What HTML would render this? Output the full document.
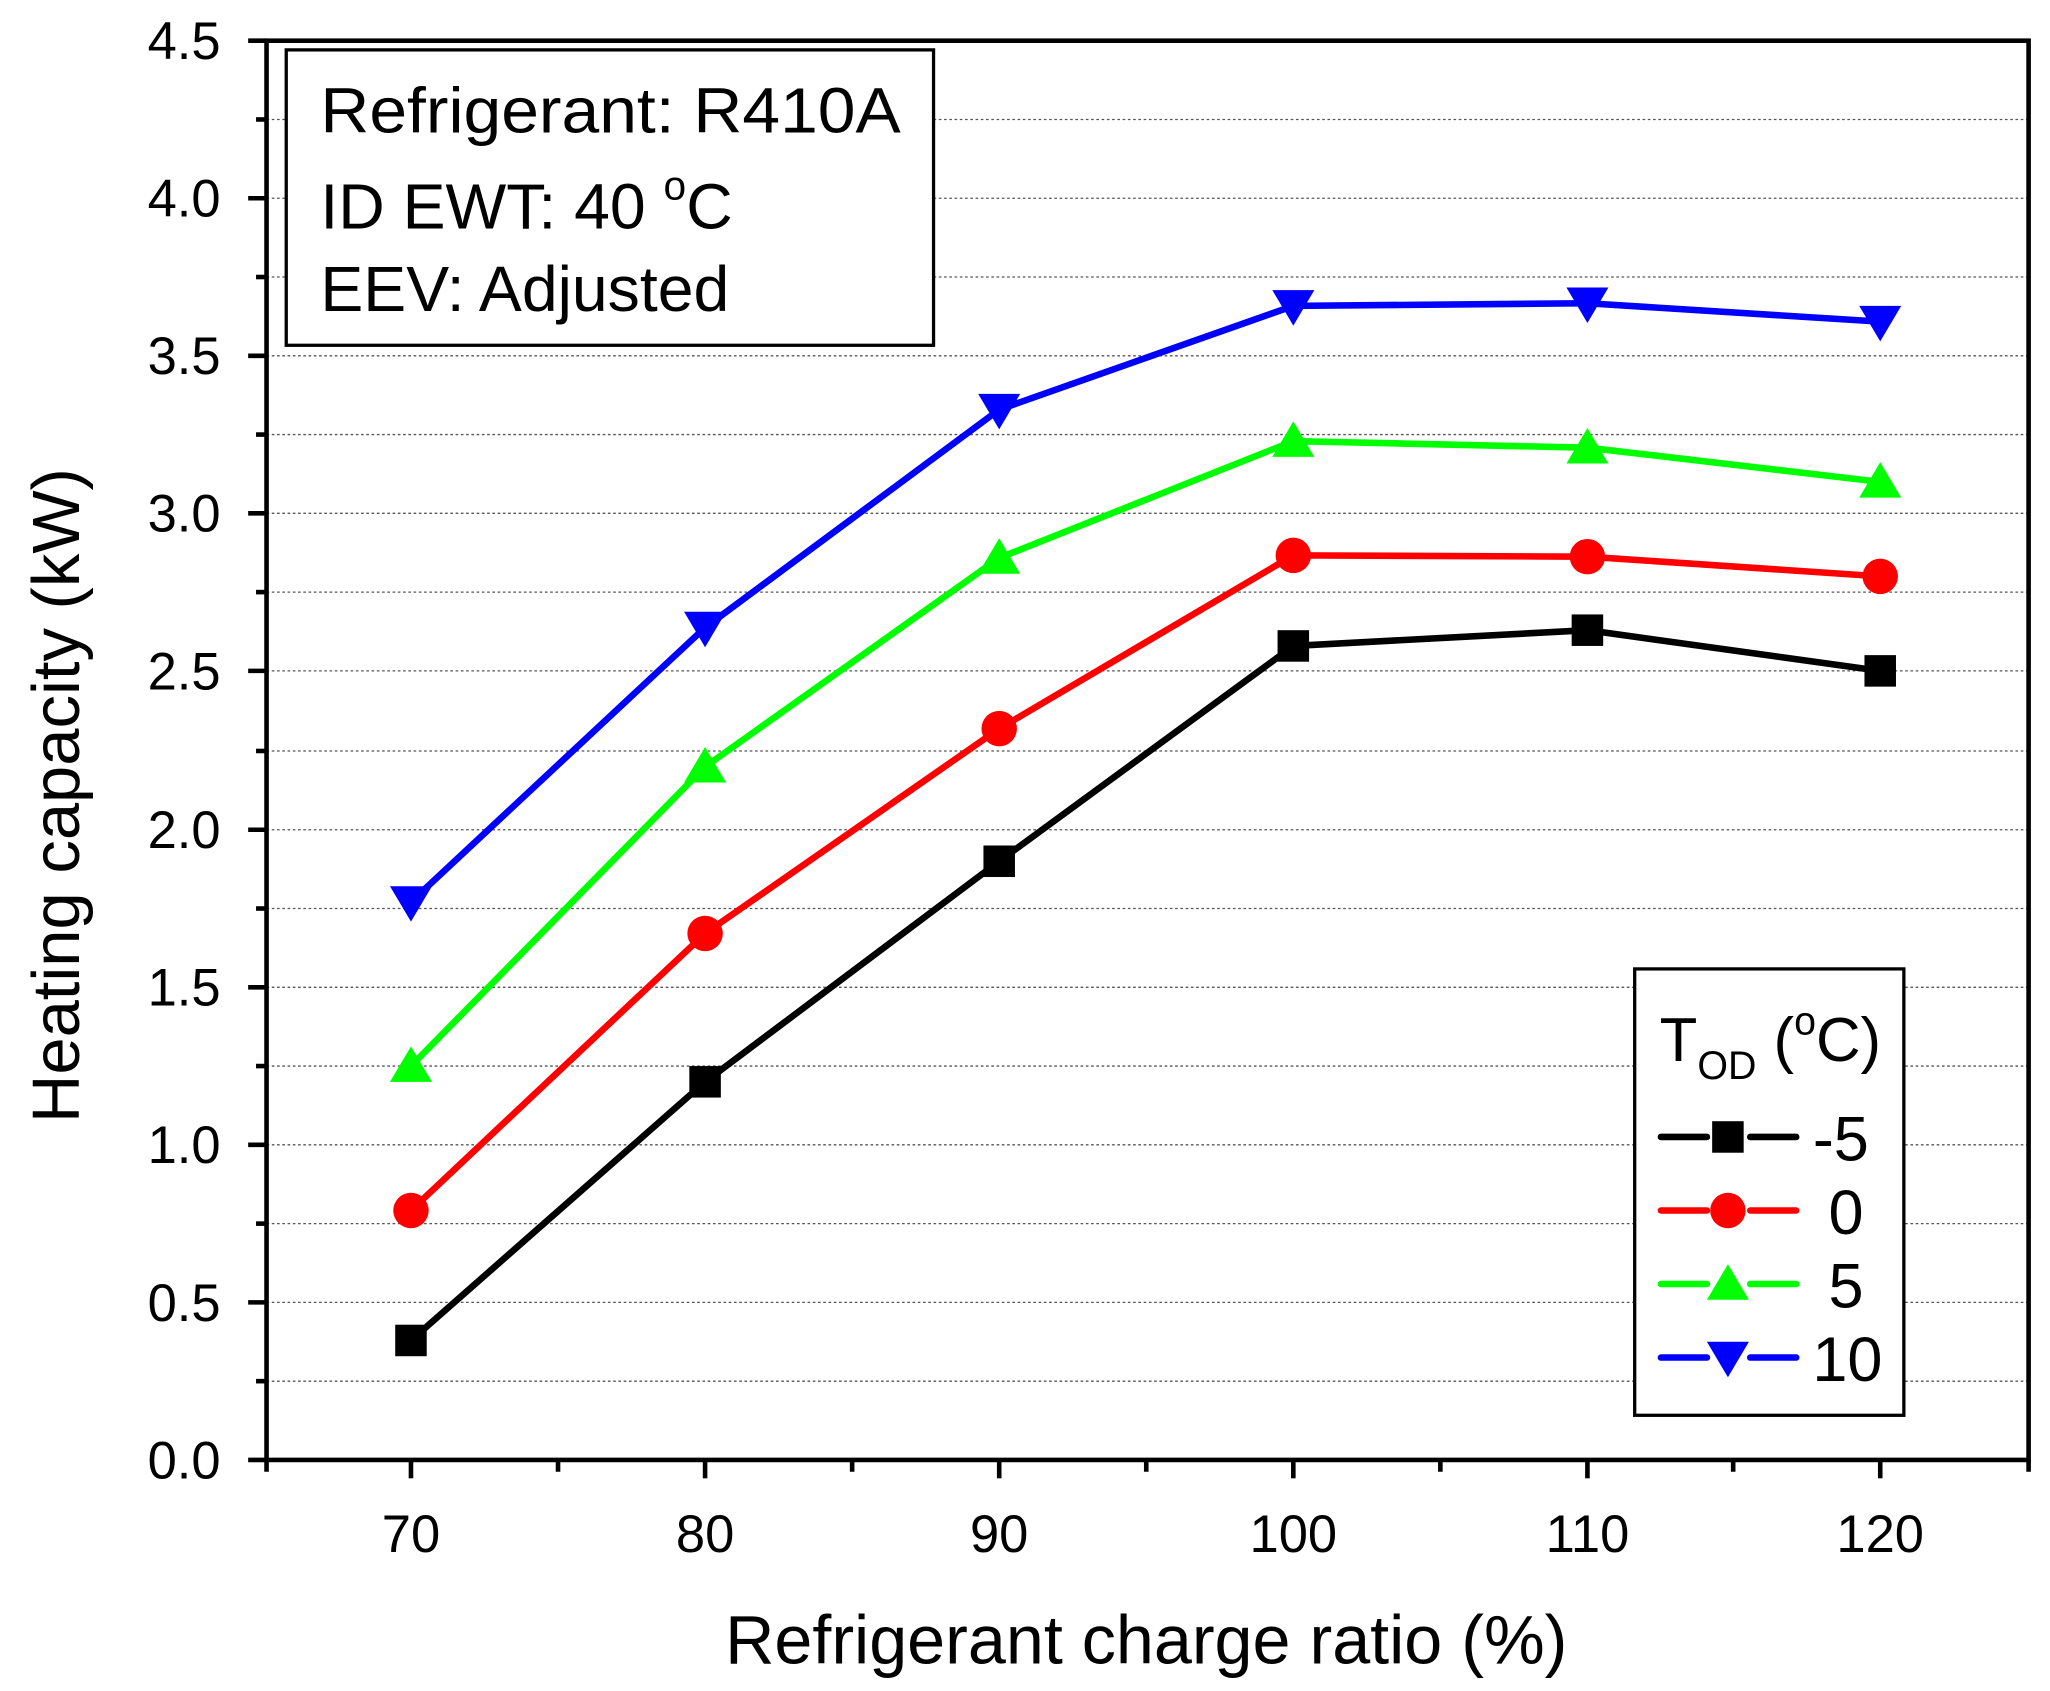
<!DOCTYPE html>
<html><head><meta charset="utf-8"><style>
html,body{margin:0;padding:0;background:#fff}
svg{display:block}
text{font-family:"Liberation Sans",Arial,sans-serif;fill:#000}
</style></head><body>
<svg width="2050" height="1691" viewBox="0 0 1561.3 1288" preserveAspectRatio="none" xmlns="http://www.w3.org/2000/svg">
<g stroke="#555" stroke-width="1" stroke-dasharray="2,2">
<line x1="203" x2="1545" y1="1052" y2="1052"/><line x1="203" x2="1545" y1="992" y2="992"/>
<line x1="203" x2="1545" y1="932" y2="932"/><line x1="203" x2="1545" y1="872" y2="872"/>
<line x1="203" x2="1545" y1="812" y2="812"/><line x1="203" x2="1545" y1="752" y2="752"/>
<line x1="203" x2="1545" y1="692" y2="692"/><line x1="203" x2="1545" y1="632" y2="632"/>
<line x1="203" x2="1545" y1="572" y2="572"/><line x1="203" x2="1545" y1="511" y2="511"/>
<line x1="203" x2="1545" y1="451" y2="451"/><line x1="203" x2="1545" y1="391" y2="391"/>
<line x1="203" x2="1545" y1="331" y2="331"/><line x1="203" x2="1545" y1="271" y2="271"/>
<line x1="203" x2="1545" y1="211" y2="211"/><line x1="203" x2="1545" y1="151" y2="151"/>
<line x1="203" x2="1545" y1="91" y2="91"/>
</g>
<g stroke="#000" stroke-width="3.5" fill="none">
<rect x="203" y="31" width="1342" height="1081"/>
<line x1="189" x2="203" y1="1112" y2="1112"/><line x1="189" x2="203" y1="992" y2="992"/>
<line x1="189" x2="203" y1="872" y2="872"/><line x1="189" x2="203" y1="752" y2="752"/>
<line x1="189" x2="203" y1="632" y2="632"/><line x1="189" x2="203" y1="511" y2="511"/>
<line x1="189" x2="203" y1="391" y2="391"/><line x1="189" x2="203" y1="271" y2="271"/>
<line x1="189" x2="203" y1="151" y2="151"/><line x1="189" x2="203" y1="31" y2="31"/>
<line x1="195" x2="203" y1="1052" y2="1052"/><line x1="195" x2="203" y1="932" y2="932"/>
<line x1="195" x2="203" y1="812" y2="812"/><line x1="195" x2="203" y1="692" y2="692"/>
<line x1="195" x2="203" y1="572" y2="572"/><line x1="195" x2="203" y1="451" y2="451"/>
<line x1="195" x2="203" y1="331" y2="331"/><line x1="195" x2="203" y1="211" y2="211"/>
<line x1="195" x2="203" y1="91" y2="91"/>
<line x1="313" x2="313" y1="1112" y2="1126"/><line x1="537" x2="537" y1="1112" y2="1126"/>
<line x1="761" x2="761" y1="1112" y2="1126"/><line x1="985" x2="985" y1="1112" y2="1126"/>
<line x1="1209" x2="1209" y1="1112" y2="1126"/><line x1="1432" x2="1432" y1="1112" y2="1126"/>
<line x1="203" x2="203" y1="1112" y2="1121"/><line x1="425" x2="425" y1="1112" y2="1121"/>
<line x1="649" x2="649" y1="1112" y2="1121"/><line x1="873" x2="873" y1="1112" y2="1121"/>
<line x1="1097" x2="1097" y1="1112" y2="1121"/><line x1="1320" x2="1320" y1="1112" y2="1121"/>
<line x1="1545" x2="1545" y1="1112" y2="1121"/>
</g>
<g font-size="40" text-anchor="end">
<text x="168" y="1126">0.0</text><text x="168" y="1006">0.5</text><text x="168" y="886">1.0</text>
<text x="168" y="766">1.5</text><text x="168" y="646">2.0</text><text x="168" y="525">2.5</text>
<text x="168" y="405">3.0</text><text x="168" y="285">3.5</text><text x="168" y="165">4.0</text>
<text x="168" y="45">4.5</text>
</g>
<g font-size="40" text-anchor="middle">
<text x="313" y="1182">70</text><text x="537" y="1182">80</text><text x="761" y="1182">90</text>
<text x="985" y="1182">100</text><text x="1209" y="1182">110</text><text x="1432" y="1182">120</text>
</g>
<text x="873" y="1267" font-size="52" text-anchor="middle">Refrigerant charge ratio (%)</text>
<text transform="translate(60,606) rotate(-90)" font-size="51" text-anchor="middle">Heating capacity (kW)</text>
<g fill="none" stroke-width="5" stroke-linejoin="round">
<polyline stroke="#000" points="313,1021 537,824 761,656 985,492 1209,480 1432,511"/>
<polyline stroke="#f00" points="313,922 537,711 761,555 985,423 1209,424 1432,439"/>
<polyline stroke="#0f0" points="313,812 537,584 761,425 985,336 1209,341 1432,367"/>
<polyline stroke="#00f" points="313,687 537,478 761,312 985,233 1209,231 1432,245"/>
</g>
<g fill="#000">
<rect x="301" y="1009" width="24" height="24"/><rect x="525" y="812" width="24" height="24"/>
<rect x="749" y="644" width="24" height="24"/><rect x="973" y="480" width="24" height="24"/>
<rect x="1197" y="468" width="24" height="24"/><rect x="1420" y="499" width="24" height="24"/>
</g>
<g fill="#f00">
<circle cx="313" cy="922" r="13.5"/><circle cx="537" cy="711" r="13.5"/><circle cx="761" cy="555" r="13.5"/>
<circle cx="985" cy="423" r="13.5"/><circle cx="1209" cy="424" r="13.5"/><circle cx="1432" cy="439" r="13.5"/>
</g>
<g fill="#0f0">
<polygon points="313,797 329,824 297,824"/><polygon points="537,569 553,596 521,596"/>
<polygon points="761,410 777,437 745,437"/><polygon points="985,321 1001,348 969,348"/>
<polygon points="1209,326 1225,353 1193,353"/><polygon points="1432,352 1448,379 1416,379"/>
</g>
<g fill="#00f">
<polygon points="313,702 329,675 297,675"/><polygon points="537,493 553,466 521,466"/>
<polygon points="761,327 777,300 745,300"/><polygon points="985,248 1001,221 969,221"/>
<polygon points="1209,246 1225,219 1193,219"/><polygon points="1432,260 1448,233 1416,233"/>
</g>
<rect x="218" y="38" width="493" height="225" fill="#fff" stroke="#000" stroke-width="2.5"/>
<g font-size="49">
<text x="244" y="101" textLength="442" lengthAdjust="spacingAndGlyphs">Refrigerant: R410A</text>
<text x="244" y="174">ID EWT: 40 <tspan font-size="31" dy="-22">o</tspan><tspan dy="22">C</tspan></text>
<text x="244" y="237">EEV: Adjusted</text>
</g>
<rect x="1245" y="738" width="205" height="340" fill="#fff" stroke="#000" stroke-width="2.5"/>
<text x="1264" y="808" font-size="47">T<tspan font-size="30" dy="14">OD</tspan><tspan dy="-14"> (</tspan><tspan font-size="30" dy="-20">o</tspan><tspan dy="20">C)</tspan></text>
<g stroke-width="5" stroke-linecap="round">
<line x1="1265" x2="1300" y1="866" y2="866" stroke="#000"/><line x1="1333" x2="1368" y1="866" y2="866" stroke="#000"/>
<line x1="1265" x2="1300" y1="922" y2="922" stroke="#f00"/><line x1="1333" x2="1368" y1="922" y2="922" stroke="#f00"/>
<line x1="1265" x2="1300" y1="978" y2="978" stroke="#0f0"/><line x1="1333" x2="1368" y1="978" y2="978" stroke="#0f0"/>
<line x1="1265" x2="1300" y1="1034" y2="1034" stroke="#00f"/><line x1="1333" x2="1368" y1="1034" y2="1034" stroke="#00f"/>
</g>
<rect x="1304" y="854" width="24" height="24" fill="#000"/>
<circle cx="1316" cy="922" r="13.5" fill="#f00"/>
<polygon points="1316,963 1332,990 1300,990" fill="#0f0"/>
<polygon points="1316,1049 1332,1022 1300,1022" fill="#00f"/>
<g font-size="48" text-anchor="middle">
<text x="1402" y="884">-5</text><text x="1406" y="940">0</text><text x="1406" y="996">5</text><text x="1407" y="1052">10</text>
</g>
</svg>
</body></html>
